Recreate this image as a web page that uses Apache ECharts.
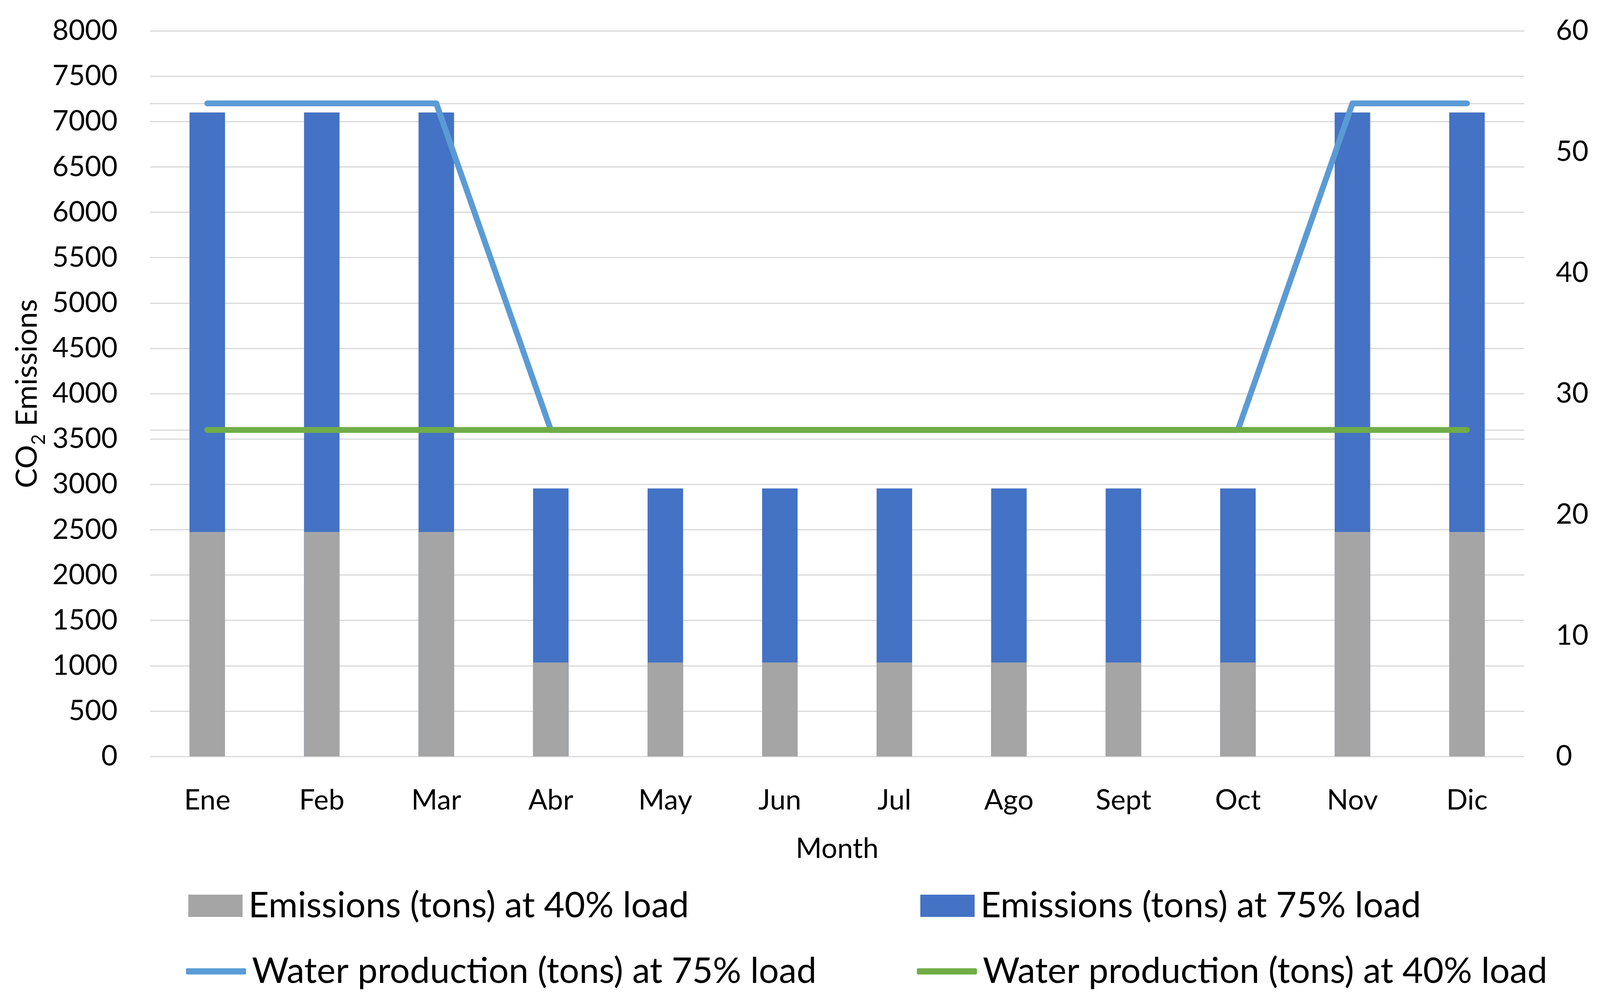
<!DOCTYPE html>
<html>
<head>
<meta charset="utf-8">
<script src="https://cdn.jsdelivr.net/npm/echarts@6/dist/echarts.min.js"></script>
<style>
html,body{margin:0;padding:0;background:#fff;}
#chart{width:4198px;height:2571px;}
</style>
</head>
<body>
<div id="chart"></div>
<script>
const months = ['Ene','Feb','Mar','Abr','May','Jun','Jul','Ago','Sept','Oct','Nov','Dic'];
const emissions40 = [2475,2475,2475,1035,1035,1035,1035,1035,1035,1035,2475,2475];
const emissions75 = [7100,7100,7100,2955,2955,2955,2955,2955,2955,2955,7100,7100];
const water75 = [54,54,54,27,27,27,27,27,27,27,54,54];
const water40 = [27,27,27,27,27,27,27,27,27,27,27,27];
const seriesNames = ['Emissions (tons) at 40% load','Emissions (tons) at 75% load','Water production (tons) at 75% load','Water production (tons) at 40% load'];

const FONT = 'Lato';
const chart = echarts.init(document.getElementById('chart'), null, {renderer:'canvas', devicePixelRatio:1});
const legendText = {fontFamily: FONT, fontSize: 91, color: '#000', padding:[0,0,0,10]};
function lg(name, left, top, icon, w, h){
  return {data:[name], left:left, top:top, icon:icon, itemWidth:w, itemHeight:h, selectedMode:false, textStyle:legendText, padding:0, itemGap:0};
}
chart.setOption({
  animation:false,
  backgroundColor:'#fff',
  grid:{left:384, right:296, top:79, bottom:634, containLabel:false},
  legend:[
    lg(seriesNames[0], 482, 2274, 'rect', 139, 57),
    lg(seriesNames[1], 2356, 2274, 'rect', 139, 57),
    lg(seriesNames[2], 476, 2442, 'roundRect', 154, 16),
    lg(seriesNames[3], 2347, 2442, 'roundRect', 154, 16)
  ],
  xAxis:{
    type:'category', data:months,
    axisLine:{show:false}, axisTick:{show:false},
    axisLabel:{fontFamily:FONT, fontSize:72, color:'#000', margin:77},
    name:'Month', nameLocation:'middle', nameGap:201,
    nameTextStyle:{fontFamily:FONT, fontSize:72, color:'#000'}
  },
  yAxis:[
    {type:'value', min:0, max:8000, interval:500,
     axisLine:{show:false}, axisTick:{show:false},
     axisLabel:{fontFamily:FONT, fontSize:72, color:'#000', margin:83, formatter:function(v){return String(v);}},
     splitLine:{show:true, lineStyle:{color:'#D9D9D9', width:3}},
     name:'{a|CO}{s|2}{a| Emissions}', nameLocation:'middle', nameGap:270, nameRotate:90,
     nameTextStyle:{fontFamily:FONT, color:'#000', rich:{
       a:{fontFamily:FONT, fontSize:76, color:'#000', lineHeight:92, verticalAlign:'bottom'},
       s:{fontFamily:FONT, fontSize:48, color:'#000', lineHeight:92, verticalAlign:'bottom', padding:[0,0,-16,0]}
     }}
    },
    {type:'value', position:'right', min:0, max:60, interval:10,
     axisLine:{show:false}, axisTick:{show:false},
     axisLabel:{fontFamily:FONT, fontSize:72, color:'#000', margin:81},
     splitLine:{show:false},
     name:'Tons', nameLocation:'middle', nameGap:213, nameRotate:90,
     nameTextStyle:{fontFamily:FONT, fontSize:72, color:'#000'}
    },
    {type:'value', position:'right', min:0, max:60, interval:27, show:true,
     axisLine:{show:false}, axisTick:{show:false}, axisLabel:{show:false},
     splitLine:{show:true, lineStyle:{color:'#D9D9D9', width:3}}
    }
  ],
  series:[
    {name:seriesNames[1], type:'bar', data:emissions75, barWidth:'31%', barGap:'-100%',
     itemStyle:{color:'#4472C4'}},
    {name:seriesNames[0], type:'bar', data:emissions40, barWidth:'31%', barGap:'-100%',
     itemStyle:{color:'#A5A5A5'}},
    {name:seriesNames[2], type:'line', yAxisIndex:1, data:water75, symbol:'none', showSymbol:false,
     lineStyle:{color:'#5B9BD5', width:15, cap:'round', join:'round'}, itemStyle:{color:'#5B9BD5'}},
    {name:seriesNames[3], type:'line', yAxisIndex:1, data:water40, symbol:'none', showSymbol:false,
     lineStyle:{color:'#70AD47', width:15, cap:'round', join:'round'}, itemStyle:{color:'#70AD47'}}
  ]
});
</script>
</body>
</html>
